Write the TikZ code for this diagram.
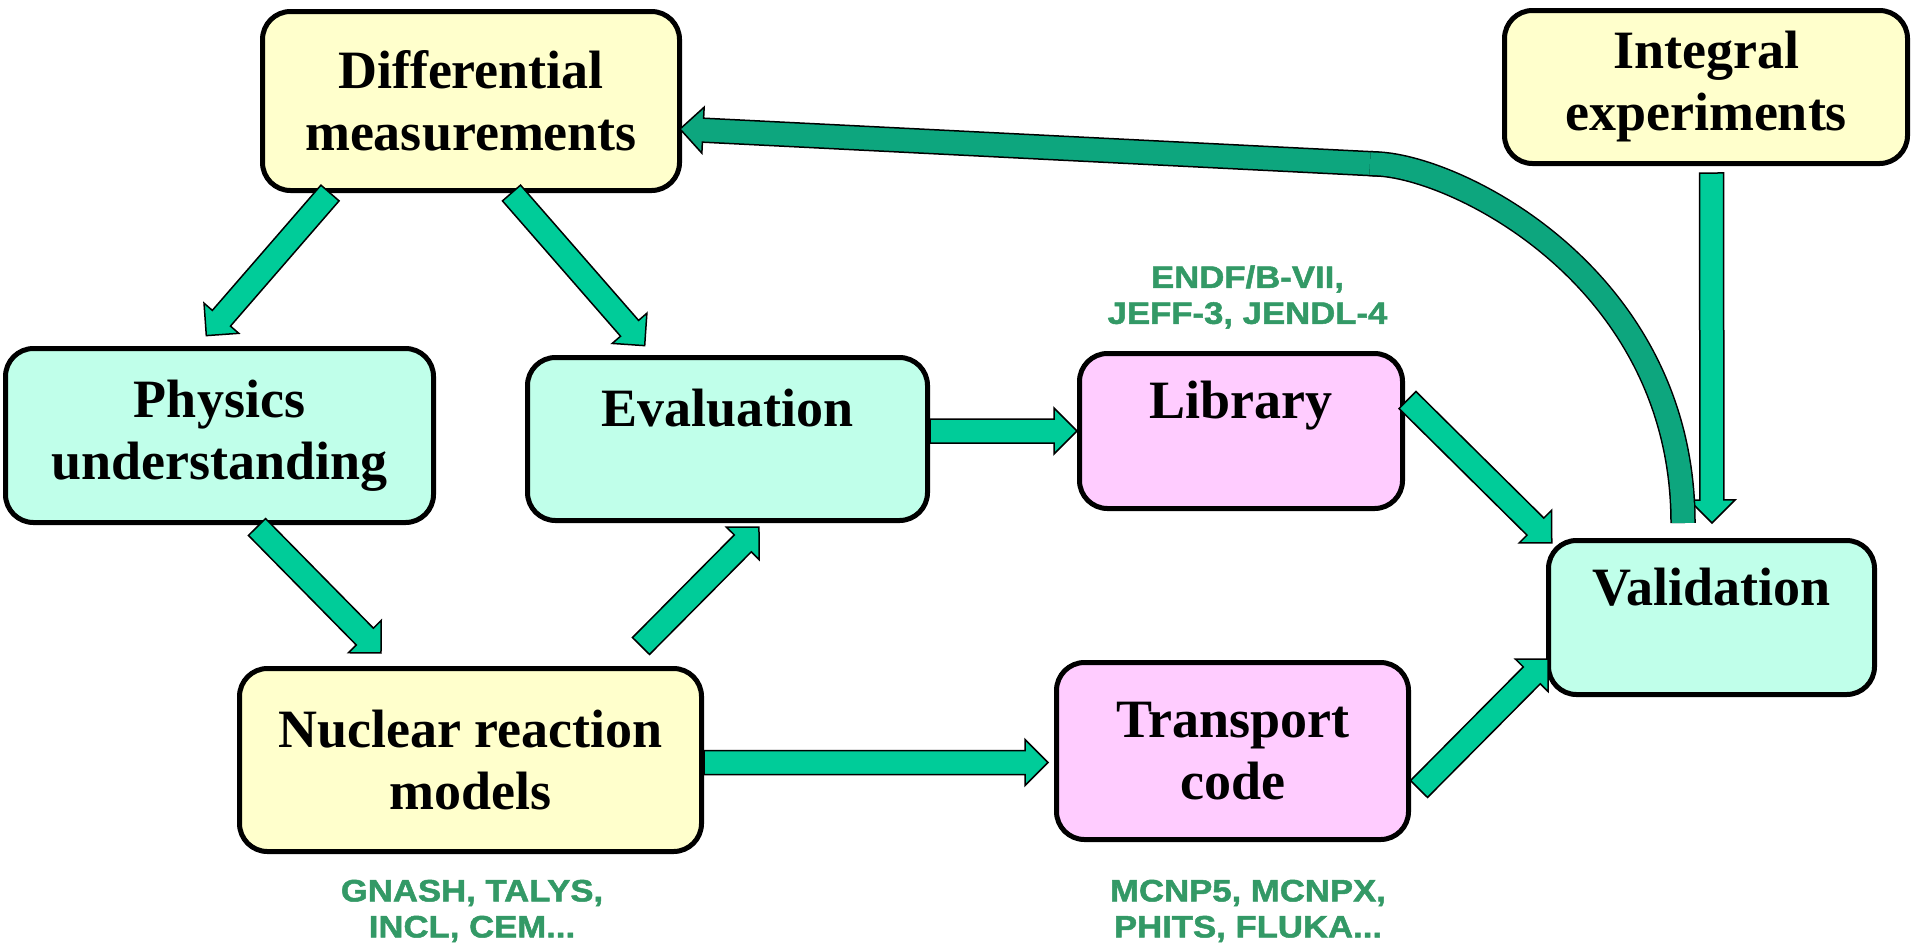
\documentclass[tikz,border=0pt]{standalone}
\usepackage{fontspec}
\usepackage{xcolor}
\usepackage{tikz}
\usetikzlibrary{calc}
\newfontfamily\diagserif{Liberation Serif}
\newfontfamily\diaglabel[FakeStretch=1.12, FakeBold=1.6]{Liberation Sans}
\definecolor{boxyellow}{RGB}{255,255,204}
\definecolor{boxcyan}{RGB}{192,255,234}
\definecolor{boxpink}{RGB}{255,204,255}
\definecolor{arrowgreen}{RGB}{0,204,153}
\definecolor{curvegreen}{RGB}{13,166,126}
\definecolor{labelgreen}{RGB}{51,153,102}

\begin{document}
\begin{tikzpicture}[x=0.5pt, y=-0.5pt,
    box/.style={draw=black, line width=2.5pt, rounded corners=14pt, align=center, inner sep=0pt,
                font=\diagserif\bfseries\fontsize{27}{31}\selectfont},
    codes/.style={text=labelgreen, align=center, font=\diaglabel\bfseries\fontsize{15.5}{18}\selectfont},
    barrow/.style={draw=black, fill=arrowgreen, line width=0.75pt,
        to path={let \p1=(\tikztostart), \p2=(\tikztotarget),
            \n1={atan2(\y2-\y1,\x2-\x1)}, \n2={veclen(\x2-\x1,\y2-\y1)} in
            [shift={(\p1)}, rotate=\n1]
            (0pt,-6pt) -- (\n2-11.5pt,-6pt) -- (\n2-11.5pt,-11.5pt) -- (\n2-0pt,0pt)
            -- (\n2-11.5pt,11.5pt) -- (\n2-11.5pt,6pt) -- (0pt,6pt) -- cycle}}]
    \useasboundingbox (0,0) rectangle (1915,949);

    \node[box, fill=boxyellow, minimum width=208.5pt, minimum height=89.5pt] (dm)    at (471,101)    {Differential\\measurements};
    \node[box, fill=boxyellow, minimum width=201.5pt, minimum height=76.5pt] (ie)    at (1706,87)    {Integral\\experiments};
    \node[box, fill=boxcyan,   minimum width=214pt,   minimum height=87pt]   (phys)  at (219.5,435.5) {Physics\\understanding};
    \node[box, fill=boxcyan,   minimum width=200pt,   minimum height=81.5pt] (eval)  at (727.5,439)  {Evaluation\\\mbox{}};
    \node[box, fill=boxpink,   minimum width=161.5pt, minimum height=77.5pt] (lib)   at (1241,431)   {Library\\\mbox{}};
    \node[box, fill=boxcyan,   minimum width=163pt,   minimum height=77pt]   (val)   at (1711.5,617.5) {Validation\\\mbox{}};
    \node[box, fill=boxyellow, minimum width=231pt,   minimum height=91.5pt] (nuc)   at (470.5,760)  {Nuclear reaction\\models};
    \node[box, fill=boxpink,   minimum width=176pt,   minimum height=88.5pt] (trans) at (1232.5,751) {Transport\\code};

    \node[codes] (libcodes)   at (1247.5,297) {ENDF/B-VII,\\JEFF-3, JENDL-4};
    \node[codes] (nuccodes)   at (472,911)    {GNASH, TALYS,\\INCL, CEM...};
    \node[codes] (transcodes) at (1248,911)   {MCNP5, MCNPX,\\PHITS, FLUKA...};

    \draw[barrow] ([xshift=-70.5pt]dm.south) to ([xshift=-6.75pt, yshift=5pt]phys.north);
    \draw[barrow] ([xshift=20.25pt]dm.south) to ([xshift=-41.25pt, yshift=4.5pt]eval.north);
    \draw[barrow] ([xshift=18.75pt, yshift=-1pt]phys.south) to ([xshift=-44.75pt, yshift=6.5pt]nuc.north);
    \draw[barrow] ([xshift=85.25pt, yshift=10pt]nuc.north) to ([xshift=15.75pt, yshift=-2pt]eval.south);
    \draw[barrow] (eval.east |- lib.west) to (lib.west);
    \draw[barrow] ([yshift=-1.25pt]nuc.east) to ([xshift=-3pt, yshift=-5.75pt]trans.west);
    \draw[barrow] ([xshift=1.25pt, yshift=15.5pt]lib.east) to ([xshift=3pt, yshift=-2.5pt]val.north west);
    \draw[barrow] ([xshift=4pt, yshift=-19pt]trans.east) to ([xshift=1pt, yshift=-20.75pt]val.west);
    \draw[barrow] ([xshift=2.75pt, yshift=-3.5pt]ie.south) to ([xshift=0.25pt, yshift=7.5pt]val.north);

    \coordinate (bend) at (1378,164);
    \draw[barrow, fill=curvegreen] (bend) to ([xshift=-1pt, yshift=-14pt]dm.east);
    \draw[line width=0.75pt, double=curvegreen, double distance=11.25pt]
        ([xshift=-14.25pt, yshift=7.5pt]val.north) .. controls +(0,-243) and +(82,4) .. (bend) -- ++(-8,-0.4);
\end{tikzpicture}
\end{document}
